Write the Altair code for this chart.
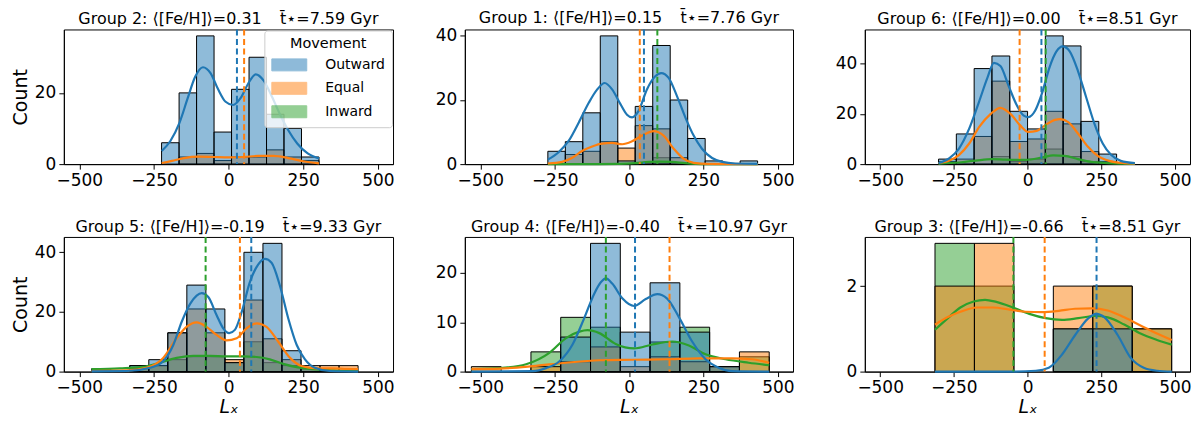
import altair as alt
import pandas as pd

HUES = ["Outward", "Equal", "Inward"]
HUE_COLORS = ["#1f77b4", "#ff7f0e", "#2ca02c"]
DRAW_ORDER = ["Inward", "Equal", "Outward"]
X_TICKS = [-500, -250, 0, 250, 500]
X_DOMAIN = [-552, 551]
GAP = "\u00a0\u00a0\u00a0\u2009"

# ---------------- Group 2 ----------------
G2_TITLE = "Group 2: ⟨[Fe/H]⟩=0.31" + GAP + "t̄⋆=7.59 Gyr"
G2_EDGES = [-224.5, -165.9, -107.3, -48.7, 9.9, 68.5, 127.1, 185.7, 244.3, 302.9]
G2_OUT = [6, 20, 36, 9, 21, 30, 14, 10, 2]
G2_EQ = [0, 2, 3, 1, 2, 2, 4, 2, 1]
G2_IN = [0, 0, 0, 0, 0, 0, 0, 0, 0]
G2_KDE_OUT_X = [-224, -195, -165, -137, -112, -86, -60, -35, -10, 15, 40, 65, 91, 117, 145, 172, 200, 230, 265, 303]
G2_KDE_OUT_Y = [3.7, 6.5, 11.5, 18.5, 24.5, 27.2, 25.5, 21.0, 17.5, 16.6, 18.5, 22.5, 25.2, 23.5, 19.0, 14.0, 9.5, 5.8, 3.0, 1.6]
G2_KDE_EQ_X = [-224, -190, -150, -100, -50, 0, 50, 100, 150, 200, 250, 303]
G2_KDE_EQ_Y = [0.3, 0.9, 1.7, 2.1, 2.0, 1.9, 2.0, 2.3, 2.3, 1.7, 0.8, 0.2]
G2_KDE_IN_X = []
G2_KDE_IN_Y = []
G2_MEANS = [28, 52, None]
G2_YMAX = 37.8
G2_YTICKS = [0, 20]

# ---------------- Group 1 ----------------
G1_TITLE = "Group 1: ⟨[Fe/H]⟩=0.15" + GAP + "t̄⋆=7.76 Gyr"
G1_EDGES = [-273, -214.25, -155.5, -96.75, -38, 20.75, 79.5, 138.25, 197, 255.75, 314.5, 373.25, 432]
G1_OUT = [4, 7, 16, 40, 1, 18, 37, 20, 8, 1, 0, 1]
G1_EQ = [0, 3, 4, 7, 5, 12, 11, 2, 0, 0, 0, 0]
G1_IN = [0, 0, 0, 0, 0, 0, 2, 0, 0, 0, 0, 0]
G1_KDE_OUT_X = [-273, -236, -202, -169, -135, -107, -82, -57, -29, -7, 10, 32, 60, 88, 108, 133, 161, 189, 217, 245, 279, 313, 357, 432]
G1_KDE_OUT_Y = [1.4, 3.8, 7.4, 13.0, 19.2, 23.3, 25.3, 23.3, 18.7, 15.4, 14.6, 16.6, 23.3, 27.4, 28.4, 26.9, 21.2, 14.6, 8.9, 4.8, 1.9, 0.7, 0.2, 0.1]
G1_KDE_EQ_X = [-273, -225, -191, -158, -124, -91, -57, -23, 10, 44, 83, 116, 150, 183, 217, 267, 432]
G1_KDE_EQ_Y = [0.2, 0.7, 2.0, 4.1, 5.5, 6.4, 6.6, 6.2, 7.1, 8.9, 10.3, 8.9, 4.8, 1.7, 0.4, 0.1, 0.0]
G1_KDE_IN_X = [-273, -100, -35, 21, 66, 100, 144, 189, 223, 270, 432]
G1_KDE_IN_Y = [0.0, 0.0, 0.05, 0.3, 0.7, 0.8, 0.7, 0.3, 0.1, 0.02, 0.0]
G1_MEANS = [50, 36, 95]
G1_YMAX = 42
G1_YTICKS = [0, 20, 40]

# ---------------- Group 6 ----------------
G6_TITLE = "Group 6: ⟨[Fe/H]⟩=0.00" + GAP + "t̄⋆=8.51 Gyr"
G6_EDGES = [-302, -241.6, -181.2, -120.8, -60.4, 0, 60.4, 120.8, 181.2, 241.6, 302]
G6_OUT = [2, 12, 38, 43, 21, 14, 51, 47, 17, 4]
G6_EQ = [1, 2, 11, 33, 9, 10, 21, 16, 5, 1]
G6_IN = [0, 0, 0, 3, 1, 2, 6, 3, 1, 0]
G6_KDE_OUT_X = [-302, -265, -232, -198, -164, -136, -114, -92, -64, -36, -13, 3, 26, 48, 76, 98, 119, 143, 171, 199, 227, 255, 283, 316, 364]
G6_KDE_OUT_Y = [0.4, 2.4, 6.3, 14.1, 25.0, 34.4, 40.3, 39.0, 31.0, 23.3, 19.3, 18.7, 21.3, 27.8, 39.0, 44.8, 46.8, 44.8, 37.0, 26.5, 16.0, 8.2, 3.7, 1.3, 0.4]
G6_KDE_EQ_X = [-302, -265, -232, -198, -164, -125, -92, -58, -25, 3, 31, 59, 93, 110, 138, 171, 205, 238, 277, 328, 364]
G6_KDE_EQ_Y = [0.4, 1.4, 3.7, 8.2, 14.8, 20.0, 22.4, 20.0, 15.4, 12.8, 13.2, 15.4, 17.6, 17.9, 16.7, 12.2, 6.9, 3.3, 1.3, 0.4, 0.2]
G6_KDE_IN_X = [-302, -232, -176, -120, -75, -8, 48, 87, 126, 171, 216, 272, 364]
G6_KDE_IN_Y = [0.2, 0.65, 1.4, 2.0, 1.8, 1.7, 2.6, 3.5, 3.3, 2.0, 0.9, 0.4, 0.1]
G6_MEANS = [47, -27, 61.5]
G6_YMAX = 53.55
G6_YTICKS = [0, 20, 40]

# ---------------- Group 5 ----------------
G5_TITLE = "Group 5: ⟨[Fe/H]⟩=-0.19" + GAP + "t̄⋆=9.33 Gyr"
G5_EDGES = [-458.7, -394.9, -331.2, -267.4, -203.7, -139.9, -76.1, -12.4, 51.4, 115.1, 178.9, 242.7, 306.4, 370.2, 433.9]
G5_OUT = [0, 0, 2, 4, 13, 29, 21, 3, 40, 43, 7, 1, 0, 0]
G5_EQ = [0, 0, 1, 2, 13, 21, 13, 4, 24, 11, 4, 2, 2, 2]
G5_IN = [1, 0, 2, 2, 4, 5, 5, 3, 10, 3, 2, 1, 0, 0]
G5_KDE_OUT_X = [-459, -341, -263, -219, -185, -157, -129, -107, -90, -68, -40, -18, 2, 21, 44, 71, 99, 122, 144, 172, 200, 228, 256, 289, 339, 434]
G5_KDE_OUT_Y = [0.1, 0.2, 1.3, 3.5, 9.0, 16.7, 22.7, 25.5, 26.3, 25.0, 18.9, 14.5, 12.9, 14.0, 20.0, 29.9, 35.9, 37.8, 36.5, 28.8, 17.8, 9.0, 4.1, 1.3, 0.2, 0.0]
G5_KDE_EQ_X = [-459, -341, -275, -219, -174, -141, -107, -74, -40, -7, 27, 60, 94, 127, 166, 206, 244, 295, 350, 395, 434]
G5_KDE_EQ_Y = [0.2, 0.4, 1.3, 4.6, 11.2, 15.0, 16.5, 15.0, 12.3, 10.5, 11.2, 14.5, 16.2, 15.0, 10.1, 4.6, 1.9, 1.1, 1.1, 0.9, 0.8]
G5_KDE_IN_X = [-459, -364, -286, -230, -174, -118, -62, -7, 49, 94, 138, 183, 228, 283, 350, 434]
G5_KDE_IN_Y = [0.8, 1.1, 1.6, 3.0, 4.6, 5.3, 5.3, 5.1, 5.1, 4.9, 4.1, 2.6, 1.5, 0.8, 0.4, 0.2]
G5_MEANS = [76, 38, -77]
G5_YMAX = 45.15
G5_YTICKS = [0, 20, 40]

# ---------------- Group 4 ----------------
G4_TITLE = "Group 4: ⟨[Fe/H]⟩=-0.40" + GAP + "t̄⋆=10.97 Gyr"
G4_EDGES = [-530, -429.9, -329.8, -229.7, -129.6, -29.5, 70.6, 170.7, 270.8, 370.9, 471]
G4_OUT = [0, 0, 0, 7, 26, 8, 18, 8, 1, 0]
G4_EQ = [1, 0, 1, 2, 5, 1, 3, 2, 1, 4]
G4_IN = [0, 0, 4, 11, 9, 0, 6, 9, 1, 3]
G4_KDE_OUT_X = [-530, -324, -279, -234, -190, -151, -117, -95, -78, -56, -22, 17, 56, 95, 128, 167, 212, 257, 301, 346, 471]
G4_KDE_OUT_Y = [0.0, 0.1, 0.7, 2.1, 5.5, 10.8, 15.8, 18.1, 18.9, 17.8, 14.8, 13.3, 14.7, 15.7, 14.8, 11.1, 6.1, 2.5, 0.8, 0.1, 0.0]
G4_KDE_EQ_X = [-530, -435, -324, -212, -100, 11, 123, 234, 346, 413, 471]
G4_KDE_EQ_Y = [0.5, 0.6, 1.1, 1.8, 2.3, 2.4, 2.5, 2.7, 2.7, 2.5, 1.8]
G4_KDE_IN_X = [-530, -435, -346, -268, -212, -167, -140, -100, -45, 17, 78, 145, 201, 257, 324, 402, 471]
G4_KDE_IN_Y = [0.5, 0.7, 1.5, 3.8, 6.8, 8.1, 8.4, 7.8, 5.6, 4.7, 5.5, 6.1, 5.3, 3.5, 2.5, 1.8, 1.3]
G4_MEANS = [20, 136, -78]
G4_YMAX = 27.3
G4_YTICKS = [0, 10, 20]

# ---------------- Group 3 ----------------
G3_TITLE = "Group 3: ⟨[Fe/H]⟩=-0.66" + GAP + "t̄⋆=8.51 Gyr"
G3_EDGES = [-314, -180.2, -46.4, 87.4, 221.2, 355, 488.8]
G3_OUT = [0, 0, 0, 1, 1, 0]
G3_EQ = [2, 3, 0, 2, 2, 1]
G3_IN = [3, 2, 0, 1, 2, 1]
G3_KDE_OUT_X = [-314, -48, 28, 72, 117, 161, 205, 233, 261, 306, 350, 394, 439, 489]
G3_KDE_OUT_Y = [0.0, 0.0, 0.02, 0.09, 0.4, 0.85, 1.24, 1.35, 1.27, 0.85, 0.32, 0.09, 0.02, 0.0]
G3_KDE_EQ_X = [-314, -272, -228, -172, -117, -61, -6, 50, 106, 161, 217, 272, 328, 383, 439, 489]
G3_KDE_EQ_Y = [1.1, 1.27, 1.4, 1.5, 1.5, 1.45, 1.4, 1.39, 1.42, 1.47, 1.48, 1.43, 1.27, 1.08, 0.89, 0.74]
G3_KDE_IN_X = [-314, -272, -228, -183, -144, -106, -50, 6, 61, 117, 172, 228, 272, 328, 383, 439, 489]
G3_KDE_IN_Y = [0.98, 1.24, 1.5, 1.64, 1.68, 1.63, 1.5, 1.35, 1.25, 1.21, 1.25, 1.3, 1.27, 1.1, 0.89, 0.74, 0.63]
G3_MEANS = [234, 58, -48]
G3_YMAX = 3.15
G3_YTICKS = [0, 2]

PANELS = [
    (G2_TITLE, G2_EDGES, G2_OUT, G2_EQ, G2_IN, (G2_KDE_OUT_X, G2_KDE_OUT_Y), (G2_KDE_EQ_X, G2_KDE_EQ_Y), (G2_KDE_IN_X, G2_KDE_IN_Y), G2_MEANS, G2_YMAX, G2_YTICKS),
    (G1_TITLE, G1_EDGES, G1_OUT, G1_EQ, G1_IN, (G1_KDE_OUT_X, G1_KDE_OUT_Y), (G1_KDE_EQ_X, G1_KDE_EQ_Y), (G1_KDE_IN_X, G1_KDE_IN_Y), G1_MEANS, G1_YMAX, G1_YTICKS),
    (G6_TITLE, G6_EDGES, G6_OUT, G6_EQ, G6_IN, (G6_KDE_OUT_X, G6_KDE_OUT_Y), (G6_KDE_EQ_X, G6_KDE_EQ_Y), (G6_KDE_IN_X, G6_KDE_IN_Y), G6_MEANS, G6_YMAX, G6_YTICKS),
    (G5_TITLE, G5_EDGES, G5_OUT, G5_EQ, G5_IN, (G5_KDE_OUT_X, G5_KDE_OUT_Y), (G5_KDE_EQ_X, G5_KDE_EQ_Y), (G5_KDE_IN_X, G5_KDE_IN_Y), G5_MEANS, G5_YMAX, G5_YTICKS),
    (G4_TITLE, G4_EDGES, G4_OUT, G4_EQ, G4_IN, (G4_KDE_OUT_X, G4_KDE_OUT_Y), (G4_KDE_EQ_X, G4_KDE_EQ_Y), (G4_KDE_IN_X, G4_KDE_IN_Y), G4_MEANS, G4_YMAX, G4_YTICKS),
    (G3_TITLE, G3_EDGES, G3_OUT, G3_EQ, G3_IN, (G3_KDE_OUT_X, G3_KDE_OUT_Y), (G3_KDE_EQ_X, G3_KDE_EQ_Y), (G3_KDE_IN_X, G3_KDE_IN_Y), G3_MEANS, G3_YMAX, G3_YTICKS),
]

COL_WIDTHS = [330, 329, 326]
PANEL_HEIGHT = 135
FONT = "DejaVu Sans"


def make_panel(idx, spec):
    title, edges, out, eq, inw, kde_out, kde_eq, kde_in, means, ymax, yticks = spec
    col, row = idx % 3, idx // 3
    counts = {"Outward": out, "Equal": eq, "Inward": inw}
    kdes = {"Outward": kde_out, "Equal": kde_eq, "Inward": kde_in}

    bar_rows = []
    for hue in DRAW_ORDER:
        for i, c in enumerate(counts[hue]):
            if c > 0:
                bar_rows.append({"lo": edges[i], "hi": edges[i + 1], "n": c, "Movement": hue})
    kde_rows = []
    for hue in DRAW_ORDER:
        xs, ys = kdes[hue]
        for k, (a, b) in enumerate(zip(xs, ys)):
            kde_rows.append({"x": a, "y": b, "Movement": hue, "k": k})
    mean_rows = []
    for hue, m in zip(HUES, means):
        if m is not None:
            mean_rows.append({"m": m, "Movement": hue})

    xsc = alt.Scale(domain=X_DOMAIN, nice=False, zero=False)
    ysc = alt.Scale(domain=[0, ymax], nice=False, zero=True)
    xax = alt.Axis(values=X_TICKS, title="Lₓ" if row == 1 else None, titleFontStyle="italic",
                   titlePadding=2, labelFlush=False)
    yax = alt.Axis(values=yticks, title="Count" if col == 0 else None, titlePadding=3,
                   minExtent=30, maxExtent=30)
    color_scale = alt.Scale(domain=HUES, range=HUE_COLORS)

    if idx == 0:
        legend = alt.Legend(
            title="Movement", orient="top-right", offset=1,
            symbolType="M-2.9167,-1L2.9167,-1L2.9167,1L-2.9167,1Z", symbolSize=144,
            symbolOffset=11, symbolStrokeColor="black", symbolStrokeWidth=1,
            symbolOpacity=0.5,
            titleFontSize=14.5, labelFontSize=14, titleFontWeight="normal",
            titleFont=FONT, labelFont=FONT, titleColor="black", labelColor="black",
            titleAnchor="middle", labelOffset=29, rowPadding=7.5, padding=7, titlePadding=6,
            fillColor="rgba(255,255,255,0.8)", strokeColor="#cccccc", cornerRadius=3,
        )
    else:
        legend = None

    bars = alt.Chart(pd.DataFrame(bar_rows)).mark_rect(
        fillOpacity=0.5, stroke="black", strokeWidth=1
    ).encode(
        x=alt.X("lo:Q", scale=xsc, axis=xax),
        x2="hi:Q",
        y=alt.Y("n:Q", scale=ysc, axis=yax, stack=None),
        y2=alt.datum(0),
        fill=alt.Fill("Movement:N", scale=color_scale, legend=legend),
    )
    lines = alt.Chart(pd.DataFrame(kde_rows)).mark_line(
        strokeWidth=2.2, interpolate="monotone"
    ).encode(
        x=alt.X("x:Q", scale=xsc, axis=xax),
        y=alt.Y("y:Q", scale=ysc, axis=yax),
        stroke=alt.Stroke("Movement:N", scale=color_scale, legend=None),
        order="k:Q",
    )
    rules = alt.Chart(pd.DataFrame(mean_rows)).mark_rule(
        strokeDash=[6, 3.5], strokeWidth=2
    ).encode(
        x=alt.X("m:Q", scale=xsc, axis=xax),
        stroke=alt.Stroke("Movement:N", scale=color_scale, legend=None),
    )
    return alt.layer(bars, lines, rules).properties(
        width=COL_WIDTHS[col], height=PANEL_HEIGHT,
        title=alt.TitleParams(text=title, fontSize=16, fontWeight="normal", font=FONT,
                              color="black", offset=1, anchor="middle"),
    )


panels = [make_panel(i, p) for i, p in enumerate(PANELS)]

chart = alt.concat(
    *panels, columns=3, spacing={"row": 73, "column": 72}, bounds="flush", align="each"
).resolve_scale(
    fill="independent", stroke="independent", x="independent", y="independent"
).resolve_legend(
    fill="independent", stroke="independent"
).properties(
    padding={"left": 3, "top": 0, "right": 0, "bottom": 0}
).configure(
    font=FONT, background="white"
).configure_view(
    stroke="black", strokeWidth=1
).configure_axis(
    grid=False, domainColor="black", tickColor="black", labelColor="black", titleColor="black",
    tickSize=5, labelFontSize=17, titleFontSize=19, titleFontWeight="normal",
    labelPadding=3, domainWidth=1, tickWidth=1, labelFont=FONT, titleFont=FONT,
)

chart.save("out.html", embed_options={"renderer": "svg", "actions": False})
